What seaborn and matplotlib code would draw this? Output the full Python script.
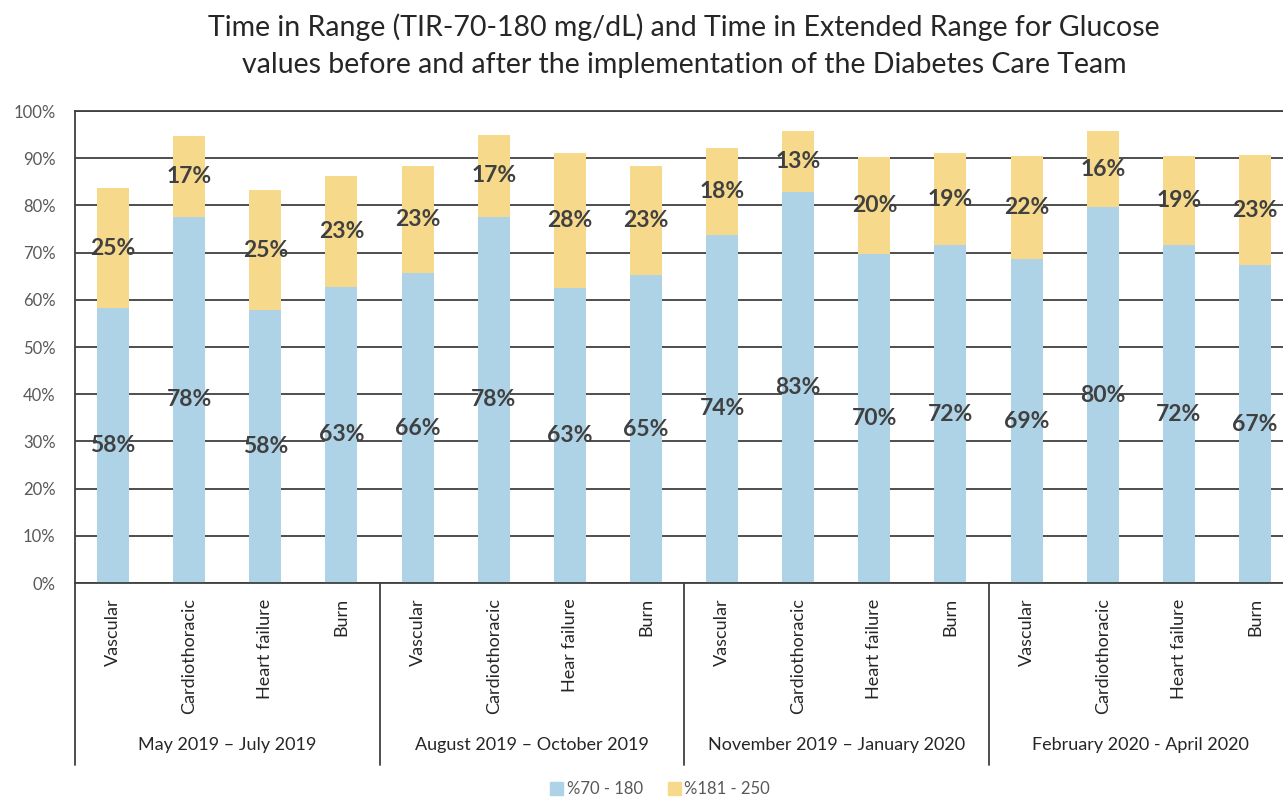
import matplotlib
matplotlib.use("Agg")
import matplotlib.pyplot as plt
import matplotlib.transforms as mtransforms
from matplotlib.patches import Patch
import pandas as pd
import seaborn as sns

# data
periods = ["May 2019 \u2013 July 2019", "August 2019 \u2013 October 2019",
           "November 2019 \u2013 January 2020", "February 2020 - April 2020"]
units = ["Vascular", "Cardiothoracic", "Heart failure", "Burn",
         "Vascular", "Cardiothoracic", "Hear failure", "Burn",
         "Vascular", "Cardiothoracic", "Heart failure", "Burn",
         "Vascular", "Cardiothoracic", "Heart failure", "Burn"]
in_range = [58.2, 77.6, 57.8, 62.8, 65.6, 77.6, 62.6, 65.2,
            73.8, 82.8, 69.8, 71.6, 68.6, 79.6, 71.6, 67.3]
extended = [25.4, 17.1, 25.4, 23.4, 22.8, 17.3, 28.4, 23.1,
            18.4, 12.9, 20.4, 19.4, 21.9, 16.1, 18.9, 23.4]

blue = "#AED3E7"
yellow = "#F7D98C"
ink = "#404040"

df = pd.DataFrame({"slot": range(len(units)), "unit": units,
                   "in_range": in_range, "extended": extended})
df["total"] = df["in_range"] + df["extended"]

sns.set_style("white")
plt.rcParams["font.family"] = ["Lato", "DejaVu Sans"]

fig = plt.figure(figsize=(12.83, 7.99), dpi=100)
ax = fig.add_axes([75 / 1283, 216 / 799, 1218 / 1283, 472 / 799])

# stacked bars: total in yellow, in-range drawn over it in blue
sns.barplot(data=df, x="slot", y="total", color=yellow, width=0.42,
            saturation=1, linewidth=0, ax=ax)
sns.barplot(data=df, x="slot", y="in_range", color=blue, width=0.42,
            saturation=1, linewidth=0, ax=ax)

for i, row in df.iterrows():
    ax.text(i, row["in_range"] / 2, f"{round(row['in_range'])}%",
            ha="center", va="center", fontsize=16.5, fontweight="bold", color=ink)
    ax.text(i, row["in_range"] + row["extended"] / 2, f"{round(row['extended'])}%",
            ha="center", va="center", fontsize=16.5, fontweight="bold", color=ink)

ax.set_xlim(-0.5, 15.5)
ax.set_ylim(0, 100)
ax.set_yticks(range(0, 101, 10))
ax.set_yticklabels([f"{v}%" for v in range(0, 101, 10)], fontsize=12, color="#595959")
ax.set_xticks(range(len(units)))
ax.set_xticklabels(units, rotation=90, va="top", ha="center", fontsize=13, color="#262626")
ax.tick_params(axis="both", length=0)
ax.tick_params(axis="y", pad=14)
ax.tick_params(axis="x", pad=11)
ax.set_xlabel("")
ax.set_ylabel("")

ax.yaxis.grid(True, color=ink, linewidth=1.3)
ax.set_axisbelow(True)
for side in ["left", "bottom", "top", "right"]:
    ax.spines[side].set_color(ink)
    ax.spines[side].set_linewidth(1.3)

# group separators and period labels below the axis
trans = mtransforms.blended_transform_factory(ax.transData, ax.transAxes)
for k in range(len(periods) + 1):
    xs = k * 4 - 0.5
    ax.plot([xs, xs], [0, -0.386], transform=trans, color=ink, lw=1.3, clip_on=False)
for k, p in enumerate(periods):
    ax.text(k * 4 + 1.5, -0.343, p, transform=trans, ha="center", va="center",
            fontsize=13, color="#262626")

fig.text(684 / 1283, 1 - 27 / 799,
         "Time in Range (TIR-70-180 mg/dL) and Time in Extended Range for Glucose",
         ha="center", va="center", fontsize=20.5, color="#262626")
fig.text(684 / 1283, 1 - 65 / 799,
         "values before and after the implementation of the Diabetes Care Team",
         ha="center", va="center", fontsize=20.5, color="#262626")

handles = [Patch(color=blue, label="%70 - 180"), Patch(color=yellow, label="%181 - 250")]
leg = fig.legend(handles=handles, loc="center", bbox_to_anchor=(660 / 1283, 1 - 789 / 799),
                 ncol=2, frameon=False, fontsize=12, handlelength=0.8, handleheight=0.8,
                 handletextpad=0.2, columnspacing=1.5)
for t in leg.get_texts():
    t.set_color("#595959")

fig.savefig("out.png", dpi=100)
